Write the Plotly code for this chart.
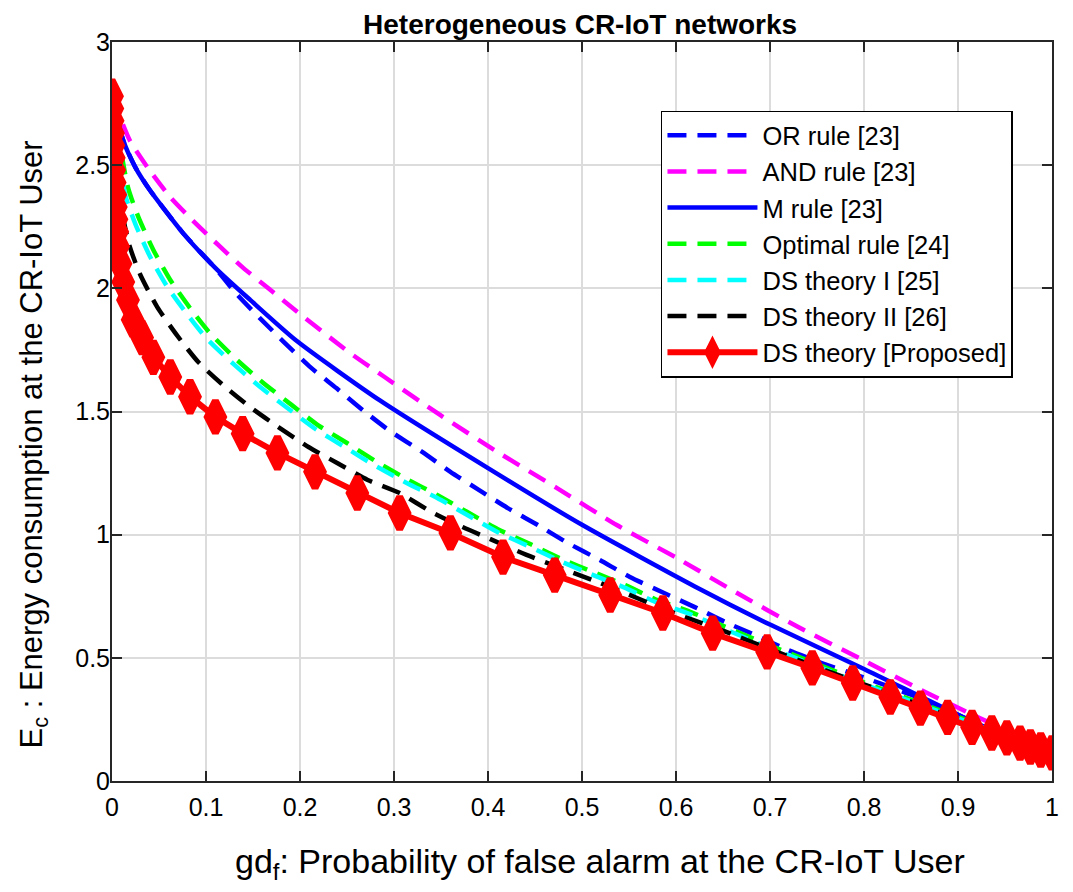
import plotly.graph_objects as go

# ---------------- data ----------------
or_x = [0, 0.012, 0.025, 0.04, 0.076, 0.108, 0.133, 0.157, 0.184, 0.211, 0.239, 0.267, 0.296, 0.33,
        0.36, 0.391, 0.421, 0.453, 0.485, 0.519, 0.551, 0.585, 0.62, 0.652, 0.684, 0.719, 0.755,
        0.8, 0.85, 0.905, 0.95, 1.0]
or_y = [2.78, 2.60, 2.49, 2.40, 2.222, 2.09, 1.975, 1.88, 1.778, 1.68, 1.594, 1.505, 1.42, 1.336,
        1.255, 1.18, 1.108, 1.039, 0.966, 0.897, 0.828, 0.767, 0.706, 0.646, 0.593, 0.532, 0.479,
        0.42, 0.35, 0.26, 0.185, 0.11]

and_x = [0, 0.019, 0.038, 0.062, 0.086, 0.113, 0.139, 0.168, 0.197, 0.253, 0.29, 0.349, 0.41, 0.473,
         0.537, 0.601, 0.665, 0.73, 0.795, 0.861, 0.923, 0.96, 1.0]
and_y = [2.78, 2.60, 2.49, 2.37, 2.275, 2.176, 2.085, 1.995, 1.905, 1.738, 1.64, 1.486, 1.336, 1.19,
         1.039, 0.905, 0.763, 0.625, 0.499, 0.369, 0.256, 0.19, 0.11]

m_x = [0, 0.012, 0.025, 0.04, 0.076, 0.112, 0.147, 0.197, 0.285, 0.4, 0.5, 0.62, 0.7, 0.8, 0.905, 0.95, 1.0]
m_y = [2.78, 2.60, 2.49, 2.40, 2.222, 2.075, 1.953, 1.785, 1.545, 1.27, 1.04, 0.79, 0.635, 0.455, 0.26, 0.185, 0.11]

opt_x = [0, 0.017, 0.028, 0.044, 0.062, 0.083, 0.104, 0.133, 0.161, 0.191, 0.219, 0.25, 0.282,
         0.314, 0.346, 0.378, 0.41, 0.445, 0.479, 0.512, 0.546, 0.578, 0.612, 0.65, 0.7, 0.75,
         0.8, 0.85, 0.9, 0.95, 1.0]
opt_y = [2.78, 2.41, 2.29, 2.156, 2.034, 1.92, 1.819, 1.709, 1.616, 1.527, 1.445, 1.372, 1.295,
         1.225, 1.161, 1.092, 1.023, 0.962, 0.9, 0.848, 0.795, 0.738, 0.692, 0.63, 0.55, 0.475,
         0.40, 0.33, 0.26, 0.19, 0.11]

ds1_x = [0, 0.014, 0.025, 0.041, 0.059, 0.08, 0.101, 0.13, 0.158, 0.188, 0.216, 0.247, 0.279,
         0.314, 0.346, 0.378, 0.41, 0.445, 0.479, 0.512, 0.546, 0.578, 0.612, 0.65, 0.7, 0.75,
         0.8, 0.85, 0.9, 0.95, 1.0]
ds1_y = [2.78, 2.38, 2.26, 2.125, 2.005, 1.895, 1.795, 1.69, 1.598, 1.51, 1.43, 1.357, 1.282,
         1.209, 1.149, 1.08, 1.011, 0.95, 0.889, 0.836, 0.784, 0.727, 0.682, 0.62, 0.54, 0.466,
         0.392, 0.323, 0.254, 0.185, 0.11]

ds2_x = [0, 0.011, 0.019, 0.03, 0.048, 0.069, 0.092, 0.118, 0.147, 0.177, 0.209, 0.24, 0.272,
         0.306, 0.34, 0.373, 0.405, 0.441, 0.511, 0.546, 0.576, 0.612, 0.65, 0.7, 0.75, 0.8,
         0.85, 0.9, 0.95, 1.0]
ds2_y = [2.78, 2.306, 2.168, 2.056, 1.925, 1.81, 1.70, 1.608, 1.518, 1.437, 1.356, 1.29, 1.222,
         1.169, 1.092, 1.031, 0.978, 0.918, 0.816, 0.763, 0.715, 0.662, 0.61, 0.535, 0.462,
         0.392, 0.322, 0.252, 0.182, 0.11]

prop_x = [0, 0.0003, 0.0006, 0.001, 0.0014, 0.0018, 0.0023, 0.0028, 0.0034, 0.004, 0.0047,
          0.0055, 0.0065, 0.009, 0.012, 0.017, 0.022, 0.032, 0.044, 0.062, 0.083, 0.11, 0.139,
          0.176, 0.216, 0.261, 0.306, 0.36, 0.416, 0.471, 0.53, 0.586, 0.639, 0.697, 0.745,
          0.788, 0.828, 0.86, 0.889, 0.915, 0.936, 0.952, 0.966, 0.977, 0.988, 1.0]
prop_y = [2.78, 2.73, 2.68, 2.63, 2.58, 2.53, 2.48, 2.43, 2.38, 2.33, 2.28, 2.23, 2.17, 2.10,
          2.026, 1.953, 1.872, 1.80, 1.72, 1.64, 1.56, 1.478, 1.41, 1.332, 1.255, 1.169, 1.088,
          1.007, 0.909, 0.836, 0.755, 0.682, 0.60, 0.524, 0.459, 0.398, 0.341, 0.296, 0.258,
          0.218, 0.195, 0.175, 0.154, 0.138, 0.126, 0.114]

x_ticks = [0, 0.1, 0.2, 0.3, 0.4, 0.5, 0.6, 0.7, 0.8, 0.9, 1]
x_tick_labels = ["0", "0.1", "0.2", "0.3", "0.4", "0.5", "0.6", "0.7", "0.8", "0.9", "1"]
y_ticks = [0, 0.5, 1, 1.5, 2, 2.5, 3]
y_tick_labels = ["0", "0.5", "1", "1.5", "2", "2.5", "3"]

# ---------------- figure ----------------
FONT = "Liberation Sans, Arial, Helvetica, sans-serif"
LW = 4.5
DASH = "19px,11px"

fig = go.Figure()

def add_line(x, y, name, color, dash):
    fig.add_trace(go.Scatter(x=x, y=y, mode="lines", name=name,
                             line=dict(color=color, width=LW, dash=dash,
                                       shape="spline", smoothing=0.6)))

add_line(or_x, or_y, "OR rule [23]", "#0000FF", DASH)
add_line(and_x, and_y, "AND rule [23]", "#FF00FF", DASH)
add_line(m_x, m_y, "M rule [23]", "#0000FF", "solid")
add_line(opt_x, opt_y, "Optimal rule [24]", "#00FF00", DASH)
add_line(ds1_x, ds1_y, "DS theory I [25]", "#00FFFF", DASH)
add_line(ds2_x, ds2_y, "DS theory II [26]", "#000000", DASH)

fig.add_trace(go.Scatter(
    x=prop_x, y=prop_y, mode="lines+markers", name="DS theory [Proposed]",
    line=dict(color="#FF0000", width=6),
    marker=dict(symbol="diamond-tall", size=23, color="#FF0000",
                line=dict(color="#FF0000", width=7)),
))

fig.update_layout(
    width=1073, height=892,
    margin=dict(l=104, r=29, t=34, b=119, autoexpand=False),
    paper_bgcolor="white", plot_bgcolor="white",
    font=dict(family=FONT, size=25, color="black"),
    title=dict(text="<b>Heterogeneous CR-IoT networks</b>", xref="paper", x=0.498,
               xanchor="center", yref="container", y=0.982, yanchor="middle",
               font=dict(family=FONT, size=28, color="black")),
    showlegend=True,
    legend=dict(x=0.584, y=0.907, xanchor="left", yanchor="top",
                bgcolor="white", bordercolor="black", borderwidth=1.5,
                font=dict(family=FONT, size=25.5, color="black"),
                itemwidth=90, tracegroupgap=0),
    annotations=[
        dict(text="gd<sub>f</sub>: Probability of false alarm at the CR-IoT User",
             xref="paper", yref="paper", x=0.519, y=-0.112, xanchor="center", yanchor="middle",
             showarrow=False, font=dict(family=FONT, size=34, color="black")),
        dict(text="E<sub>c</sub> : Energy consumption at the CR-IoT User",
             xref="paper", yref="paper", x=-0.0835, y=0.4547, xanchor="center", yanchor="middle",
             textangle=-90, showarrow=False, font=dict(family=FONT, size=31, color="black")),
    ],
)

axis_common = dict(
    showgrid=True, gridcolor="#DCDCDC", gridwidth=1.5,
    showline=True, linecolor="#262626", linewidth=2, mirror="allticks",
    ticks="inside", ticklen=10, tickwidth=2, tickcolor="#262626",
    zeroline=False, automargin=False,
    tickfont=dict(family=FONT, size=25, color="black"),
)

fig.update_xaxes(range=[0, 1], tickvals=x_ticks, ticktext=x_tick_labels,
                 ticklabelstandoff=3, **axis_common)
fig.update_yaxes(range=[0, 3], tickvals=y_ticks, ticktext=y_tick_labels,
                 ticklabelstandoff=-5, **axis_common)

fig.write_html("out.html")
